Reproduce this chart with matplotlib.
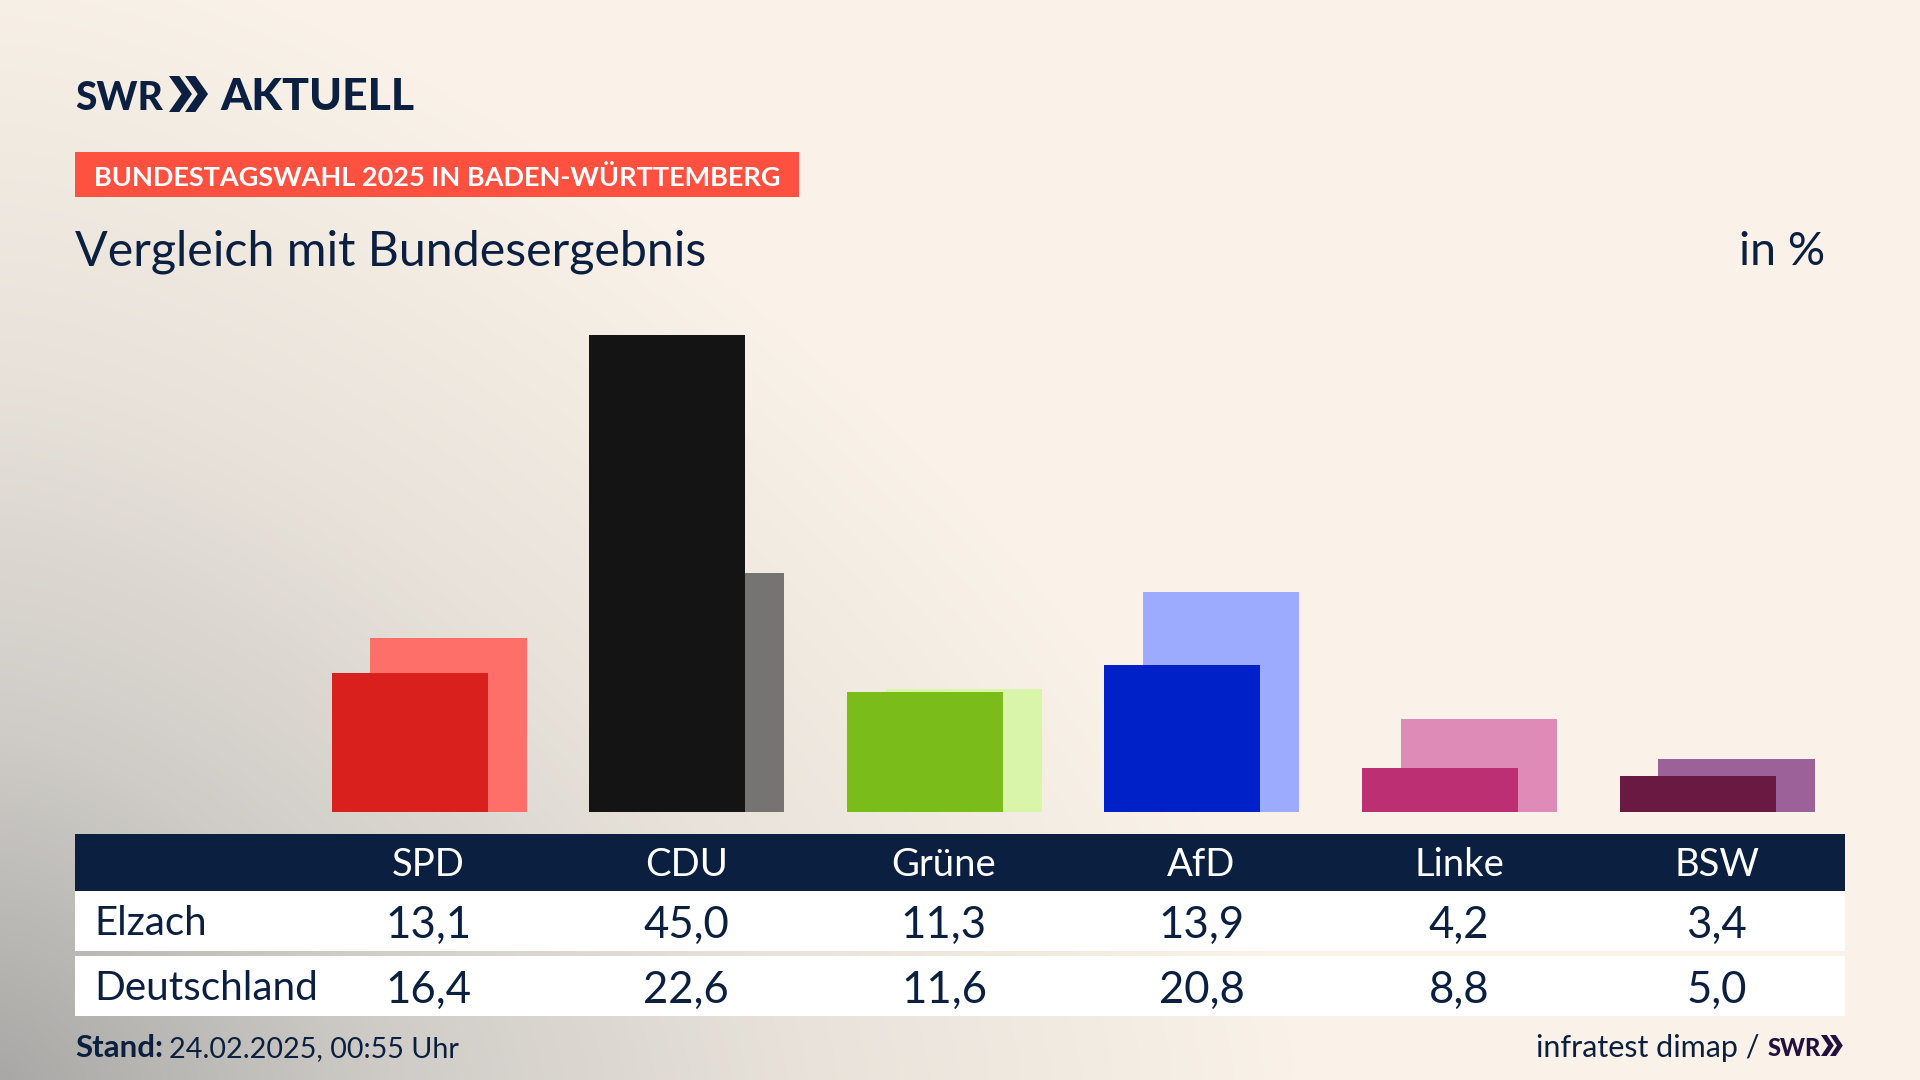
import numpy as np
import matplotlib
matplotlib.use("Agg")
import matplotlib.pyplot as plt
from matplotlib.patches import Rectangle, Polygon
from matplotlib.colors import LinearSegmentedColormap

parties = ["SPD", "CDU", "Grüne", "AfD", "Linke", "BSW"]
elzach = [13.1, 45.0, 11.3, 13.9, 4.2, 3.4]
deutschland = [16.4, 22.6, 11.6, 20.8, 8.8, 5.0]
front_colors = ["#D9201D", "#141414", "#7ABD1B", "#0020C8", "#BC2F72", "#6A1A42"]
back_colors = ["#FF6F6A", "#767472", "#D8F5AA", "#9DABFF", "#DF8BB8", "#9C6199"]

NAVY = "#0B2040"
plt.rcParams["font.family"] = ["Lato", "DejaVu Sans"]


def fmt(v):
    return f"{v:.1f}".replace(".", ",")


def chevrons(ax, x, top, bottom, w, color):
    mid = (top + bottom) / 2
    t = w * 0.36
    for k in range(2):
        x0 = x + k * w * 0.56
        ax.add_patch(Polygon([(x0, top), (x0 + t, top), (x0 + w * 0.44 + t, mid),
                              (x0 + t, bottom), (x0, bottom), (x0 + w * 0.44, mid)],
                             closed=True, fc=color, ec="none"))


fig = plt.figure(figsize=(19.2, 10.8), dpi=100)

# background, grey glow from the lower left corner
bg = fig.add_axes([0, 0, 1, 1], zorder=0)
yy, xx = np.mgrid[0:1080, 0:1920]
dist = ((xx / 1300.0) ** 1.5 + ((1080 - yy) / 1150.0) ** 1.5) ** (1 / 1.5)
cmap = LinearSegmentedColormap.from_list("bg", [(0, "#A8A8A6"), (0.3, "#CFCCC7"), (0.62, "#E8E2DA"), (1, "#FAF2E8")])
bg.imshow(np.clip(dist, 0, 1), cmap=cmap, vmin=0, vmax=1, aspect="auto", extent=(0, 1920, 1080, 0))
bg.axis("off")

# bars, index 0 sits at x=428.7px, one step is 257.6px, baseline at y=812px
step = 257.6
per_unit = 10.59
ax = fig.add_axes([0, 0, 1, 1], zorder=1)
ax.patch.set_alpha(0)
ax.set_xlim(-428.7 / step, (1920 - 428.7) / step)
ax.set_ylim(-(1080 - 812) / per_unit, 812 / per_unit)
ax.axis("off")
x = np.arange(len(parties))
ax.bar(x + 0.0768, deutschland, width=0.606, color=back_colors)
ax.bar(x - 0.074, elzach, width=0.606, color=front_colors)

# everything else in pixel coordinates
ov = fig.add_axes([0, 0, 1, 1], zorder=2)
ov.patch.set_alpha(0)
ov.set_xlim(0, 1920)
ov.set_ylim(1080, 0)
ov.axis("off")

# logo
ov.text(75, 110, "SWR", fontsize=28, fontweight="black", color=NAVY, va="baseline")
chevrons(ov, 169, 76, 112, 28.7, NAVY)
ov.text(220, 110, "AKTUELL", fontsize=32, fontweight="black", color=NAVY, va="baseline")

# headline
ov.add_patch(Rectangle((74.7, 152), 724, 45, fc="#FF5040", ec="none"))
ov.text(94, 175, "BUNDESTAGSWAHL 2025 IN BADEN-WÜRTTEMBERG", fontsize=19.5, fontweight="bold",
        color="white", va="center_baseline")
ov.text(75, 265, "Vergleich mit Bundesergebnis", fontsize=34.8, color=NAVY, va="baseline")
ov.text(1825, 265, "in %", fontsize=33.5, color=NAVY, va="baseline", ha="right")

# table
ov.add_patch(Rectangle((74.7, 834), 1770.3, 56.7, fc=NAVY, ec="none"))
ov.add_patch(Rectangle((74.7, 890.7), 1770.3, 60, fc="white", ec="none"))
ov.add_patch(Rectangle((74.7, 956), 1770.3, 59.7, fc="white", ec="none"))
ov.text(94, 920, "Elzach", fontsize=29, color=NAVY, va="center_baseline")
ov.text(94, 985, "Deutschland", fontsize=29.2, color=NAVY, va="center_baseline")
for i, name in enumerate(parties):
    cx = 428.7 + i * step
    ov.text(cx, 862, name, fontsize=27.5, color="white", ha="center", va="center_baseline")
    ov.text(cx, 921, fmt(elzach[i]), fontsize=31.5, color=NAVY, ha="center", va="center_baseline")
    ov.text(cx, 986, fmt(deutschland[i]), fontsize=31.5, color=NAVY, ha="center", va="center_baseline")

# footer
ov.text(75, 1057, "Stand:", fontsize=22.5, fontweight="bold", color=NAVY, va="baseline")
ov.text(169, 1057, "24.02.2025, 00:55 Uhr", fontsize=20.7, color=NAVY, va="baseline")
ov.text(1760, 1057, "infratest dimap /", fontsize=22, color=NAVY, va="baseline", ha="right")
ov.text(1768, 1056, "SWR", fontsize=17, fontweight="black", color="#24103C", va="baseline")
chevrons(ov, 1821, 1035, 1056, 16, "#24103C")

fig.savefig("out.png", dpi=100)
